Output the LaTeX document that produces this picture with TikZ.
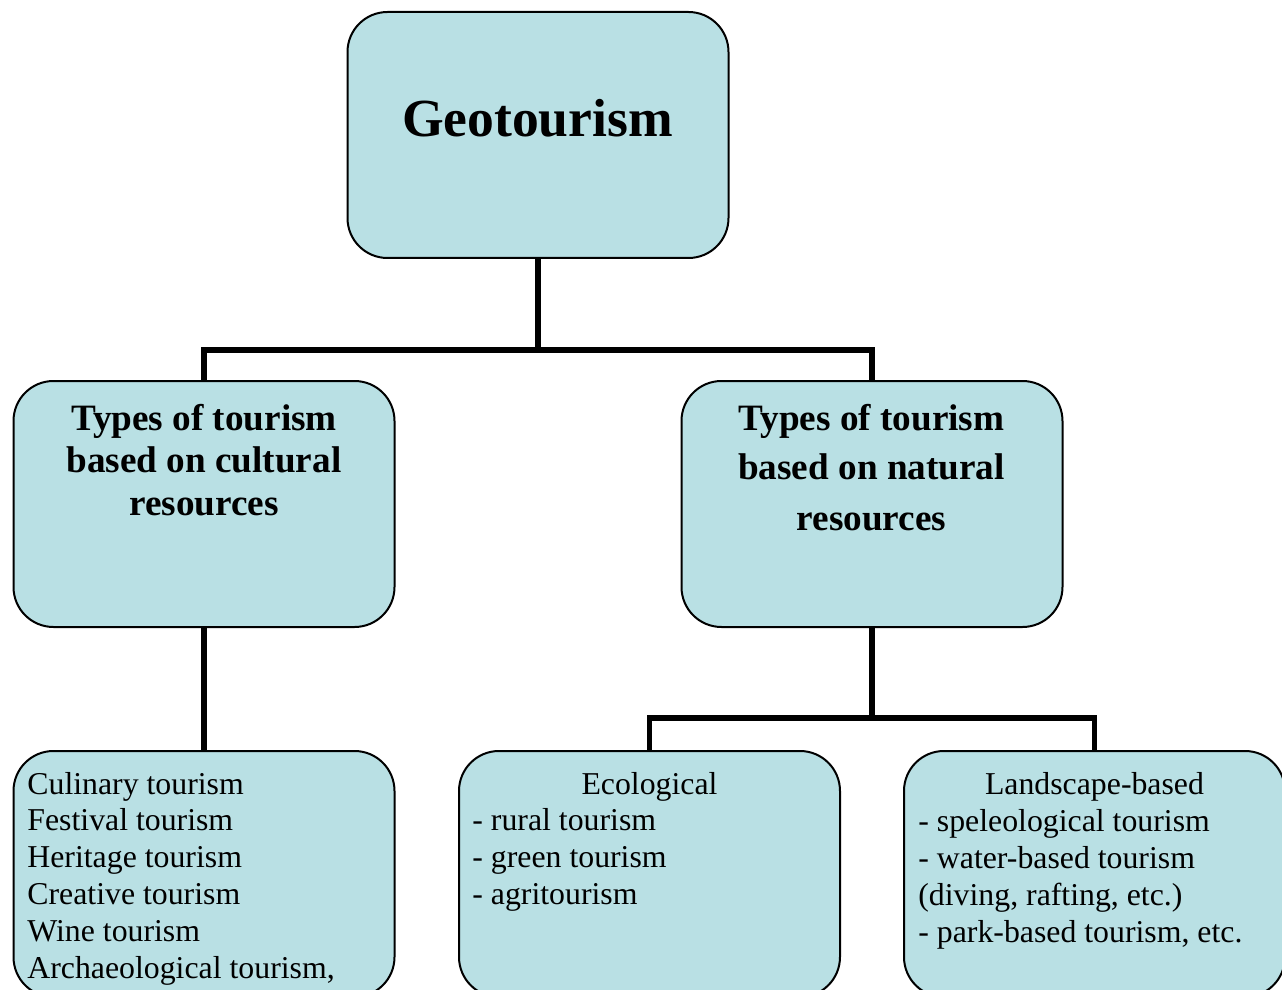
\documentclass[tikz,border=0pt]{standalone}
\usepackage{fontspec}
\setmainfont{Liberation Serif}
\definecolor{boxfill}{RGB}{185,224,228}
\begin{document}
\begin{tikzpicture}[x=0.5pt,y=-0.5pt,
  box/.style={draw=black, line width=1pt, fill=boxfill, rounded corners=20pt,
    minimum width=190.5pt, minimum height=123pt, inner sep=0pt},
  conn/.style={line width=2.8pt, line join=miter},
  head/.style={align=center, inner sep=0pt, anchor=base},
  body/.style={font=\fontsize{15.9}{18.4}\selectfont, align=left, inner sep=0pt, anchor=base west}]
\useasboundingbox (0,0) rectangle (1282,990);
\clip (0,0) rectangle (1282,990);
% boxes
\node[box] (geo) at (538,135) {};
\node[box] (cult) at (204,504) {};
\node[box] (nat) at (872,504) {};
\node[box, anchor=north] (cl) at (204,750) {};
\node[box, anchor=north] (eco) at (649.5,750) {};
\node[box, anchor=north] (land) at (1094.5,750) {};
% texts
\node[font=\bfseries\fontsize{26.8}{30}\selectfont, inner sep=0pt, anchor=base] (geot) at (537.5,137) {Geotourism};
\node[head, font=\bfseries\fontsize{18.6}{21.5}\selectfont] (cultt) at (204,516) {Types of tourism\\based on cultural\\resources};
\node[head, font=\bfseries\fontsize{18.6}{25}\selectfont] (natt) at (871.5,530) {Types of tourism\\based on natural\\resources};
\node[body] (clt) at (27,978) {Culinary tourism\\Festival tourism\\Heritage tourism\\Creative tourism\\Wine tourism\\Archaeological tourism,};
\node[body, anchor=base] (ecoh) at (649.5,794) {Ecological};
\node[body] (ecot) at (472,904) {- rural tourism\\- green tourism\\- agritourism};
\node[body, anchor=base] (landh) at (1094.5,794) {Landscape-based};
\node[body] (landt) at (918,942) {- speleological tourism\\- water-based tourism\\(diving, rafting, etc.)\\- park-based tourism, etc.};
% connectors
\coordinate (bar1) at (538,350);
\coordinate (bar2) at (872,718);
\draw[conn] (geo.south) -- (bar1);
\draw[conn] (cult.north) |- (bar1) -| (nat.north);
\draw[conn] (cult.south) -- (cl.north);
\draw[conn] (nat.south) -- (bar2);
\draw[conn] (eco.north) |- (bar2) -| (land.north);
\end{tikzpicture}
\end{document}
